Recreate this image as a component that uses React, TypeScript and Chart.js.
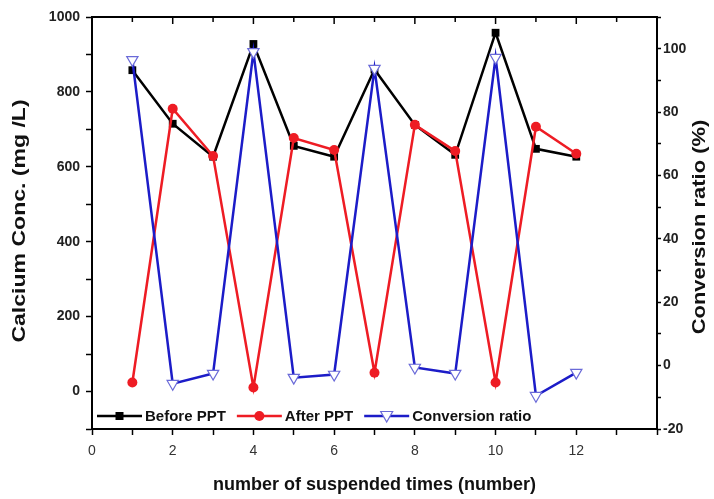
import React, { useEffect, useRef } from 'react';
import { Chart, registerables } from 'chart.js';

Chart.register(...registerables);

const xValues = [1, 2, 3, 4, 5, 6, 7, 8, 9, 10, 11, 12];
const beforePPT = [858, 715, 627, 928, 656, 627, 860, 712, 632, 958, 648, 627];
const afterPPT = [24, 755, 629, 11, 677, 645, 50, 712, 642, 24, 707, 635];
const conversionRatio = [96.5, -5.7, -2.5, 99, -3.8, -2.8, 93.7, -0.6, -2.5, 97.2, -9.5, -2.2];
const seriesLabels = ['Before PPT', 'After PPT', 'Conversion ratio'];
const xTickLabels = [0, 2, 4, 6, 8, 10, 12];
const leftTickLabels = [0, 200, 400, 600, 800, 1000];
const rightTickLabels = [-20, 0, 20, 40, 60, 80, 100];
const leftTitle = 'Calcium Conc. (mg /L)';
const rightTitle = 'Conversion ratio (%)';
const xTitle = 'number of suspended times (number)';

const FONT = '"Liberation Sans", Arial, sans-serif';
const BLACK = '#000000';
const RED = '#ee1c24';
const BLUE = '#1c1cc8';
const TRI = '#6a6ad8';

const toPoints = (ys: number[]) => xValues.map((x, i) => ({ x, y: ys[i] }));

const drawVerticalTitle = (ctx: any, text: string, x: number, y: number, stretch: number) => {
  ctx.save();
  ctx.font = 'bold 18px ' + FONT;
  ctx.textAlign = 'center';
  ctx.textBaseline = 'middle';
  ctx.fillStyle = '#111';
  ctx.translate(x, y);
  ctx.rotate(-Math.PI / 2);
  ctx.scale(stretch, 1);
  ctx.fillText(text, 0, 0);
  ctx.restore();
};

const framePlugin = {
  id: 'frameAndLegend',
  afterDatasetsDraw(chart: any) {
    const { ctx, chartArea } = chart;
    const { left, right, top, bottom } = chartArea;
    const xs = chart.scales.x;
    ctx.save();
    ctx.strokeStyle = '#000';
    ctx.lineWidth = 2;
    ctx.strokeRect(left, top, right - left, bottom - top);
    ctx.lineWidth = 1.5;
    for (let v = 1; v < 14; v++) {
      const px = xs.getPixelForValue(v);
      ctx.beginPath();
      ctx.moveTo(px, top);
      ctx.lineTo(px, top + (v % 2 === 0 ? 7 : 5));
      ctx.stroke();
    }
    const ly = 416;
    let lx = left + 5;
    ctx.font = 'bold 15px ' + FONT;
    ctx.textBaseline = 'middle';
    ctx.textAlign = 'left';
    chart.data.datasets.forEach((ds: any, i: number) => {
      const lineLen = 45;
      ctx.strokeStyle = ds.borderColor;
      ctx.lineWidth = 2.5;
      ctx.beginPath();
      ctx.moveTo(lx, ly);
      ctx.lineTo(lx + lineLen, ly);
      ctx.stroke();
      const mx = lx + lineLen / 2;
      if (i === 0) {
        ctx.fillStyle = BLACK;
        ctx.fillRect(mx - 4, ly - 4, 8, 8);
      } else if (i === 1) {
        ctx.fillStyle = RED;
        ctx.beginPath();
        ctx.arc(mx, ly, 5, 0, Math.PI * 2);
        ctx.fill();
      } else {
        ctx.fillStyle = '#fff';
        ctx.strokeStyle = TRI;
        ctx.lineWidth = 1.2;
        ctx.beginPath();
        ctx.moveTo(mx - 6, ly - 4.5);
        ctx.lineTo(mx + 6, ly - 4.5);
        ctx.lineTo(mx, ly + 6);
        ctx.closePath();
        ctx.fill();
        ctx.stroke();
      }
      ctx.fillStyle = '#111';
      const tx = lx + lineLen + 3;
      ctx.fillText(ds.label, tx, ly + 1);
      lx = tx + ctx.measureText(ds.label).width + 11;
    });
    ctx.restore();
    const cy = (top + bottom) / 2;
    drawVerticalTitle(ctx, leftTitle, 20, cy - 2, 1.28);
    drawVerticalTitle(ctx, rightTitle, 700, cy + 4, 1.22);
  },
};

export default function App() {
  const ref = useRef<HTMLCanvasElement>(null);
  useEffect(() => {
    if (!ref.current) return;
    const chart = new Chart(ref.current, {
      type: 'line',
      data: {
        datasets: [
          {
            label: seriesLabels[0],
            data: toPoints(beforePPT),
            borderColor: BLACK,
            backgroundColor: BLACK,
            borderWidth: 2.5,
            pointStyle: 'rect',
            pointRadius: 5.5,
            pointBorderWidth: 0,
            yAxisID: 'y',
            order: 2,
          },
          {
            label: seriesLabels[1],
            data: toPoints(afterPPT),
            borderColor: RED,
            backgroundColor: RED,
            borderWidth: 2.5,
            pointStyle: 'circle',
            pointRadius: 5,
            pointBorderWidth: 0,
            yAxisID: 'y',
            order: 1,
          },
          {
            label: seriesLabels[2],
            data: toPoints(conversionRatio),
            borderColor: BLUE,
            backgroundColor: '#ffffff',
            pointBorderColor: TRI,
            borderWidth: 2.5,
            pointStyle: 'triangle',
            pointRotation: 180,
            pointRadius: 6.5,
            pointBorderWidth: 1.2,
            yAxisID: 'y1',
            order: 0,
          },
        ],
      },
      options: {
        animation: false,
        responsive: false,
        layout: { padding: { top: 17, left: 0, right: 0, bottom: 0 } },
        plugins: { legend: { display: false }, tooltip: { enabled: false } },
        scales: {
          x: {
            type: 'linear',
            position: 'bottom',
            min: 0,
            max: 14,
            ticks: {
              stepSize: 1,
              autoSkip: false,
              maxRotation: 0,
              padding: 8,
              color: '#333',
              font: { family: FONT, size: 14 },
              callback: (v: any) => (xTickLabels.includes(v) ? String(v) : ''),
            },
            grid: { drawOnChartArea: false, tickLength: 6, color: '#000', tickWidth: 1.5 },
            border: { color: '#000', width: 2 },
            title: {
              display: true,
              text: xTitle,
              color: '#111',
              font: { family: FONT, size: 18, weight: 'bold' },
              padding: { top: 0, bottom: 3 },
            },
            afterFit: (s: any) => { s.height = 70; },
          },
          y: {
            type: 'linear',
            position: 'left',
            min: -100,
            max: 1000,
            ticks: {
              stepSize: 100,
              autoSkip: false,
              padding: 6,
              color: '#222',
              font: { family: FONT, size: 14, weight: 'bold' },
              callback: (v: any) => (leftTickLabels.includes(v) ? String(v) : ''),
            },
            grid: { drawOnChartArea: false, tickLength: 6, color: '#000', tickWidth: 1.5 },
            border: { color: '#000', width: 2 },
            afterFit: (s: any) => { s.width = 92; },
          },
          y1: {
            type: 'linear',
            position: 'right',
            min: -20,
            max: 110,
            ticks: {
              stepSize: 10,
              autoSkip: false,
              padding: 2,
              color: '#222',
              font: { family: FONT, size: 14, weight: 'bold' },
              callback: (v: any) => (rightTickLabels.includes(v) ? String(v) : ''),
            },
            grid: { drawOnChartArea: false, tickLength: 4, color: '#000', tickWidth: 1.5 },
            border: { color: '#000', width: 2 },
            afterFit: (s: any) => { s.width = 57; },
          },
        },
      },
      plugins: [framePlugin],
    } as any);
    return () => chart.destroy();
  }, []);
  return (
    <div style={{ position: 'absolute', left: 0, top: 0, width: 714, height: 499, background: '#fff' }}>
      <canvas ref={ref} width={714} height={499} style={{ display: 'block' }} />
    </div>
  );
}
